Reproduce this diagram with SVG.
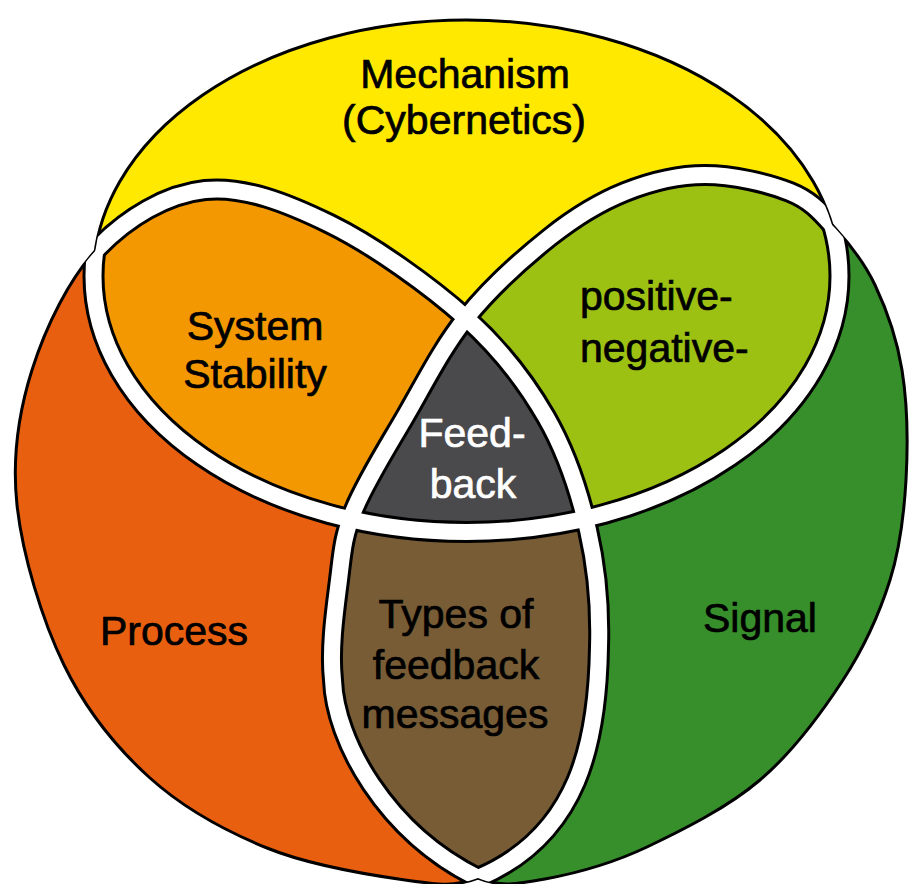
<svg xmlns="http://www.w3.org/2000/svg" xmlns:xlink="http://www.w3.org/1999/xlink" width="909" height="884" viewBox="0 0 909 884">
<defs>
<style>
text { font-family: "Liberation Sans", Arial, sans-serif; font-size: 41px; fill: #000; stroke: #000; stroke-width: 0.7; }
.c { text-anchor: middle; }
.w { fill: #fff; stroke: #fff; }
.outline { fill: none; stroke: #000; stroke-width: 3; stroke-linejoin: round; }
.bandK { fill: none; stroke: #000; stroke-width: 22; stroke-linejoin: round; }
.bandW { fill: none; stroke: #fff; stroke-width: 16; stroke-linejoin: round; }
</style>
<ellipse id="A" cx="466.5" cy="276" rx="373" ry="256"/>
<path id="B" d="M205,190 C243.7,186 286.5,202.7 330,224 C373.5,245.3 430,285.8 466,318 C502,350.2 525.7,381.7 546,417 C566.3,452.3 579.2,491.7 588,530 C596.8,568.3 600.3,605.3 599,647 C597.5,740 580,835 478,878 C454.7,887 440.2,885 405,880 C369.8,875 309.5,865.3 267,848 C224.5,830.7 183.8,808.5 150,778 C116.2,747.5 86.2,710.5 64,665 C41.8,619.5 22.3,554.2 17,505 C11.7,455.8 18.5,412.8 32,370 C45.5,327.2 69.2,278 98,248 C126.8,218 166.3,194 205,190 Z"/>
<path id="C" d="M705,175 C732.5,175 768.3,183.2 790,192 C811.7,200.8 820.8,212.5 835,228 C849.2,243.5 863.8,261.3 875,285 C886.2,308.7 896.8,337.5 902,370 C907.2,402.5 908,445 906,480 C904,515 900.5,546.7 890,580 C879.5,613.3 864.7,646.7 843,680 C821.3,713.3 792.7,752.2 760,780 C727.3,807.8 682.8,830 647,847 C611.2,864 573.2,873.8 545,879 C516.8,884.2 500.3,887.2 478,878 C385,832 335,740 333,680 C329.5,647 335.5,608.3 339,580 C342.5,551.7 343,537.2 354,510 C365,482.8 386.3,449 405,417 C423.7,385 441.8,348 466,318 C490.2,288 523.5,258 550,237 C576.5,216 599.2,202.3 625,192 C650.8,181.7 677.5,175 705,175 Z"/>
<clipPath id="clipA"><use href="#A"/></clipPath>
<clipPath id="clipB"><use href="#B"/></clipPath>
<clipPath id="clipBC"><use href="#B"/><use href="#C"/></clipPath>
<clipPath id="clipAC"><use href="#A"/><use href="#C"/></clipPath>
<clipPath id="clipAB"><use href="#A"/><use href="#B"/></clipPath>
</defs>

<g id="regions">
  <g id="mechanism"><use href="#A" fill="#ffe900"/></g>
  <g id="process"><use href="#B" fill="#e95f10"/></g>
  <g id="signal"><use href="#C" fill="#368f2a"/></g>
  <g id="system-stability"><use href="#B" fill="#f39800" clip-path="url(#clipA)"/></g>
  <g id="positive-negative"><use href="#C" fill="#9cc113" clip-path="url(#clipA)"/></g>
  <g id="types-of-feedback"><use href="#C" fill="#775c35" clip-path="url(#clipB)"/></g>
  <g id="feedback" clip-path="url(#clipA)"><use href="#C" fill="#4a494c" clip-path="url(#clipB)"/></g>
</g>

<g id="outlines">
  <use href="#A" class="outline"/>
  <use href="#B" class="outline"/>
  <use href="#C" class="outline"/>
</g>

<g id="bands">
  <use href="#A" class="bandK" clip-path="url(#clipBC)"/>
  <use href="#B" class="bandK" clip-path="url(#clipAC)"/>
  <use href="#C" class="bandK" clip-path="url(#clipAB)"/>
  <use href="#A" class="bandW" clip-path="url(#clipBC)"/>
  <use href="#B" class="bandW" clip-path="url(#clipAC)"/>
  <use href="#C" class="bandW" clip-path="url(#clipAB)"/>
</g>

<g id="labels">
  <text class="c" x="465" y="88">Mechanism</text>
  <text class="c" x="464" y="134">(Cybernetics)</text>
  <text class="c" x="255" y="340">System</text>
  <text class="c" x="255" y="388">Stability</text>
  <text x="580" y="310">positive-</text>
  <text x="580" y="362">negative-</text>
  <text class="c w" x="472" y="447">Feed-</text>
  <text class="c w" x="473" y="498">back</text>
  <text class="c" x="174" y="645">Process</text>
  <text class="c" x="456" y="628">Types of</text>
  <text class="c" x="456" y="679">feedback</text>
  <text class="c" x="455" y="728">messages</text>
  <text class="c" x="760" y="632">Signal</text>
</g>
</svg>
